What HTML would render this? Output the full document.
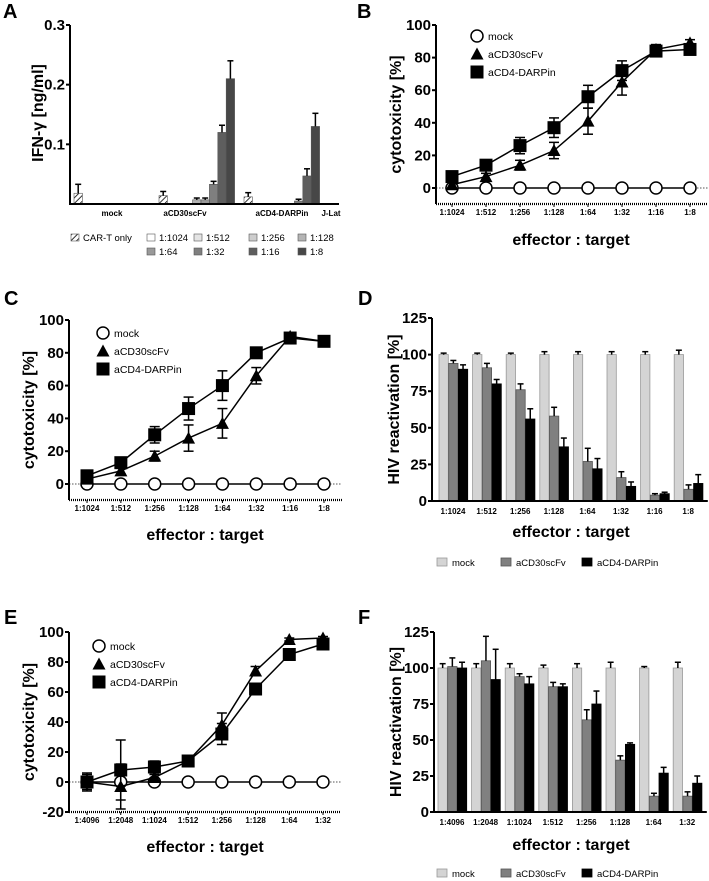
<!DOCTYPE html>
<html><head><meta charset="utf-8"><style>
body{margin:0;background:#fff;width:709px;height:881px;overflow:hidden}
svg{display:block;font-family:"Liberation Sans",Arial,sans-serif}
</style></head><body>
<svg id="fig" width="709" height="881" viewBox="0 0 709 881">
<defs><pattern id="hatch" width="4" height="4" patternUnits="userSpaceOnUse" patternTransform="rotate(45)"><rect width="4" height="4" fill="#fff"/><line x1="0" y1="0" x2="0" y2="4" stroke="#000" stroke-width="1.6"/></pattern></defs>
</svg>
<script>
// ---- Panel A data ----
const aGroups=["mock","aCD30scFv","aCD4-DARPin","J-Lat"];
const aSeries=["CAR-T only","1:1024","1:512","1:256","1:128","1:64","1:32","1:16","1:8"];
const aMock=[0.018,0,0,0,0,0,0,0,0];
const aMockErr=[0.015,0,0,0,0,0,0,0,0];
const aCD30=[0.014,0,0,0,0.007,0.007,0.033,0.12,0.21];
const aCD30Err=[0.007,0,0,0,0.003,0.003,0.005,0.012,0.03];
const aCD4=[0.012,0,0,0,0,0,0.005,0.047,0.13];
const aCD4Err=[0.007,0,0,0,0,0,0.003,0.012,0.022];
const aJLat=[0,0,0,0,0,0,0,0,0];
const aTicks=[0.1,0.2,0.3];
// ---- Panel B data ----
const ratios8=["1:1024","1:512","1:256","1:128","1:64","1:32","1:16","1:8"];
const bMock=[0,0,0,0,0,0,0,0];
const bCD30=[2,7,14,23,41,65,85,89];
const bCD30Err=[2,2,3,5,8,8,3,2];
const bCD4=[7,14,26,37,56,72,84,85];
const bCD4Err=[3,2,5,6,7,6,3,2];
// ---- Panel C data ----
const cMock=[0,0,0,0,0,0,0,0];
const cCD30=[3,8,17,28,37,66,90,87];
const cCD30Err=[2,2,3,8,9,5,2,2];
const cCD4=[5,13,30,46,60,80,89,87];
const cCD4Err=[2,3,5,7,9,3,2,2];
// ---- Panel D data ----
const dMock=[100,100,100,100,100,100,100,100];
const dMockErr=[1,1,1,2,2,2,2,3];
const dCD30=[94,91,76,58,27,16,4,8];
const dCD30Err=[2,3,4,6,9,4,1,3];
const dCD4=[90,80,56,37,22,10,5,12];
const dCD4Err=[3,3,7,6,7,3,1,6];
// ---- Panel E data ----
const ratiosE=["1:4096","1:2048","1:1024","1:512","1:256","1:128","1:64","1:32"];
const eMock=[0,0,0,0,0,0,0,0];
const eCD30=[0,-3,3,14,38,74,95,96];
const eCD30Err=[5,15,2,2,8,3,1,1];
const eCD4=[0,8,10,14,32,62,85,92];
const eCD4Err=[6,20,4,2,7,3,2,2];
// ---- Panel F data ----
const fMock=[100,100,100,100,100,100,100,100];
const fMockErr=[3,3,3,2,3,4,1,4];
const fCD30=[101,105,94,87,64,36,11,11];
const fCD30Err=[6,17,2,3,7,3,2,3];
const fCD4=[100,92,89,87,75,47,27,20];
const fCD4Err=[4,21,5,2,9,1,4,5];
const lineTicks=[0,20,40,60,80,100];
const lineTicksE=[-20,0,20,40,60,80,100];
const barTicks=[0,25,50,75,100,125];

const svg=document.getElementById('fig');
const NS='http://www.w3.org/2000/svg';
function mk(tag,attrs,parent){const e=document.createElementNS(NS,tag);for(const k in attrs)e.setAttribute(k,attrs[k]);(parent||svg).appendChild(e);return e;}
function txt(s,x,y,size,anchor,weight,parent,rot){const e=mk('text',{x:x,y:y,'font-size':size,'text-anchor':anchor||'middle','font-weight':weight||'bold',fill:'#000'},parent);if(rot)e.setAttribute('transform','rotate(-90 '+x+' '+y+')');e.textContent=s;return e;}

function panelLabel(s,x,y){const t=txt(s,x,y,20,'start','bold');}

function errBar(g,x,y1,y2,cap){mk('line',{x1:x,x2:x,y1:y1,y2:y2,stroke:'#000','stroke-width':1.5},g);mk('line',{x1:x-cap,x2:x+cap,y1:y2,y2:y2,stroke:'#000','stroke-width':1.5},g);}

// ---------- Panel A ----------
(function(){
  const g=mk('g',{});
  
  
  const x0=70,x1=339,yz=204,yTop=25,max=0.3;
  const Y=v=>yz-(v/max)*(yz-yTop);
  const bw=8.4,gStart=[74,159,244,329];
  const fills=['url(#hatch)','#fff','#e4e4e4','#cdcdcd','#b4b4b4','#999','#7f7f7f','#5e5e5e','#474747'];
  const groups=[aMock,aCD30,aCD4,aJLat],errs=[aMockErr,aCD30Err,aCD4Err,aJLat];
  groups.forEach((arr,gi)=>{arr.forEach((v,i)=>{if(v<=0)return;const x=gStart[gi]+i*bw;
    const r=mk('rect',{x:x,y:Y(v),width:bw,height:yz-Y(v),fill:fills[i],stroke:'#555','stroke-width':0.6},g);
    
    
    if(errs[gi][i]>0)errBar(g,x+bw/2,Y(v),Y(v+errs[gi][i]),3);});});
  mk('line',{x1:x0,x2:x0,y1:yTop,y2:yz+1,stroke:'#000','stroke-width':2},g);
  mk('line',{x1:x0,x2:x1,y1:yz,y2:yz,stroke:'#000','stroke-width':2},g);
  aTicks.forEach(t=>{mk('line',{x1:x0-4,x2:x0,y1:Y(t),y2:Y(t),stroke:'#000','stroke-width':2},g);txt(String(t),x0-5,Y(t)+5,15,'end','bold',g);});
  const gx=[112,185,282,331];
  aGroups.forEach((s,i)=>txt(s,gx[i],216,8,'middle','bold',g));
  const yl=txt('IFN-γ [ng/ml]',43,113,16,'middle','bold',g,true);
  
  const lx=[71,147,194,249,298],ly=[241,255];
  aSeries.forEach((s,i)=>{let bx,by;if(i==0){bx=lx[0];by=ly[0];}else if(i<5){bx=lx[i];by=ly[0];}else{bx=lx[i-4];by=ly[1];}
    const le=mk('g',{},g);
    mk('rect',{x:bx,y:by-7,width:8,height:7,fill:fills[i],stroke:'#555','stroke-width':0.6},le);
    txt(s,bx+12,by,9.5,'start','normal',le);});
})();
panelLabel('A',3,18);

// ---------- Line chart builder ----------
function lineChart(o){
  const g=mk('g',{});
  
  
  const Y=v=>o.yz-(v/100)*(o.yz-o.y100);
  const X=i=>o.xa+i*(o.xb-o.xa)/7;
  mk('line',{x1:o.ax,x2:o.xb+18,y1:o.yz,y2:o.yz,stroke:'#555','stroke-width':1,'stroke-dasharray':'1.5,1.5'},g);
  mk('line',{x1:o.ax,x2:o.ax,y1:o.y100,y2:o.yb,stroke:'#000','stroke-width':2},g);
  mk('line',{x1:o.ax,x2:o.xb+18,y1:o.yb,y2:o.yb,stroke:'#000','stroke-width':2.2,'stroke-dasharray':'1,1'},g);
  o.ticks.forEach(t=>{mk('line',{x1:o.ax-4,x2:o.ax,y1:Y(t),y2:Y(t),stroke:'#000','stroke-width':2},g);txt(String(t),o.ax-5,Y(t)+5,15,'end','bold',g);});
  o.cats.forEach((c,i)=>{mk('line',{x1:X(i),x2:X(i),y1:o.yb,y2:o.yb+3,stroke:'#000','stroke-width':1},g);txt(c,X(i),o.yb+11,8,'middle','bold',g);});
  const xt=txt('effector : target',o.xlx,o.xly,16,'middle','bold',g);
  
  const yt=txt('cytotoxicity [%]',o.ylx,(o.y100+o.yb)/2,16,'middle','bold',g,true);
  
  const ser=[[o.mock,null,'circle'],[o.cd30,o.cd30e,'tri'],[o.cd4,o.cd4e,'sq']];
  ser.forEach(([vals,errs,shape])=>{
    const pts=vals.map((v,i)=>X(i)+','+Y(v)).join(' ');
    const pl=mk('polyline',{points:pts,fill:'none',stroke:'#000','stroke-width':1.5},g);
    
    vals.forEach((v,i)=>{
      if(errs&&errs[i]>0){const x=X(i);mk('line',{x1:x,x2:x,y1:Y(v-errs[i]),y2:Y(v+errs[i]),stroke:'#000','stroke-width':1.5},g);
        mk('line',{x1:x-5,x2:x+5,y1:Y(v+errs[i]),y2:Y(v+errs[i]),stroke:'#000','stroke-width':1.5},g);
        mk('line',{x1:x-5,x2:x+5,y1:Y(v-errs[i]),y2:Y(v-errs[i]),stroke:'#000','stroke-width':1.5},g);}
      marker(g,shape,X(i),Y(v));});
  });
  const names=['mock','aCD30scFv','aCD4-DARPin'],shapes=['circle','tri','sq'];
  names.forEach((n,i)=>{const le=mk('g',{},g);
    const y=o.legY+i*18;marker(le,shapes[i],o.legX,y);txt(n,o.legX+11,y+4,10.5,'start','normal',le);});
}
function marker(g,shape,x,y){
  let m;
  if(shape=='circle')m=mk('circle',{cx:x,cy:y,r:6,fill:'#fff',stroke:'#000','stroke-width':1.5},g);
  else if(shape=='tri')m=mk('polygon',{points:(x-6.5)+','+(y+5.5)+' '+(x+6.5)+','+(y+5.5)+' '+x+','+(y-6.5),fill:'#000'},g);
  else m=mk('rect',{x:x-6.5,y:y-6.5,width:13,height:13,fill:'#000'},g);
  
}

lineChart({name:'panel-b-cytotoxicity-chart',ax:436,y100:25,yz:188,yb:204,xa:452,xb:690,cats:ratios8,ticks:lineTicks,
  mock:bMock,cd30:bCD30,cd30e:bCD30Err,cd4:bCD4,cd4e:bCD4Err,xlx:571,xly:245,ylx:401,legX:477,legY:36});
panelLabel('B',357,18);
lineChart({name:'panel-c-cytotoxicity-chart',ax:69,y100:320,yz:484,yb:500,xa:87,xb:324,cats:ratios8,ticks:lineTicks,
  mock:cMock,cd30:cCD30,cd30e:cCD30Err,cd4:cCD4,cd4e:cCD4Err,xlx:205,xly:540,ylx:34,legX:103,legY:333});
panelLabel('C',4,305);
lineChart({name:'panel-e-cytotoxicity-chart',ax:69,y100:632,yz:782,yb:812,xa:87,xb:323,cats:ratiosE,ticks:lineTicksE,
  mock:eMock,cd30:eCD30,cd30e:eCD30Err,cd4:eCD4,cd4e:eCD4Err,xlx:205,xly:852,ylx:34,legX:99,legY:646});
panelLabel('E',4,624);

// ---------- Bar chart builder ----------
function barChart(o){
  const g=mk('g',{});
  
  
  const Y=v=>o.yz-(v/125)*(o.yz-o.y125);
  const gw=33.6,bw=9.3;
  const fills=['#d4d4d4','#808080','#000'],strokes=['#999','#555','#000'];
  const ser=[[o.mock,o.mocke],[o.cd30,o.cd30e],[o.cd4,o.cd4e]];
  ser.forEach(([vals,errs],si)=>vals.forEach((v,i)=>{const x=o.gx+i*gw+si*(bw+0.4);
    const r=mk('rect',{x:x,y:Y(v),width:bw,height:o.yz-Y(v),fill:fills[si],stroke:strokes[si],'stroke-width':0.8},g);
    
    errBar(g,x+bw/2,Y(v),Y(v+errs[i]),3);}));
  mk('line',{x1:o.ax,x2:o.ax,y1:o.y125,y2:o.yz+1,stroke:'#000','stroke-width':2},g);
  mk('line',{x1:o.ax,x2:o.gx+8*gw,y1:o.yz,y2:o.yz,stroke:'#000','stroke-width':2},g);
  o.ticks.forEach(t=>{mk('line',{x1:o.ax-4,x2:o.ax,y1:Y(t),y2:Y(t),stroke:'#000','stroke-width':2},g);txt(String(t),o.ax-5,Y(t)+5,15,'end','bold',g);});
  o.cats.forEach((c,i)=>txt(c,o.gx+i*gw+14,o.yz+13,8,'middle','bold',g));
  const xt=txt('effector : target',571,o.xly,16,'middle','bold',g);
  
  const yt=txt('HIV reactivation [%]',o.ax-33,(o.y125+o.yz)/2,16,'middle','bold',g,true);
  
  const names=['mock','aCD30scFv','aCD4-DARPin'],lx=[437,501,582];
  names.forEach((n,i)=>{const le=mk('g',{},g);
    mk('rect',{x:lx[i],y:o.legY-7,width:10,height:8,fill:fills[i],stroke:strokes[i],'stroke-width':0.8},le);
    txt(n,lx[i]+15,o.legY+1,9.5,'start','normal',le);});
}
barChart({name:'panel-d-hiv-reactivation-chart',ax:432,y125:318,yz:501,gx:439,cats:ratios8,ticks:barTicks,
  mock:dMock,mocke:dMockErr,cd30:dCD30,cd30e:dCD30Err,cd4:dCD4,cd4e:dCD4Err,xly:537,legY:565});
panelLabel('D',358,305);
barChart({name:'panel-f-hiv-reactivation-chart',ax:434,y125:632,yz:812,gx:438,cats:ratiosE,ticks:barTicks,
  mock:fMock,mocke:fMockErr,cd30:fCD30,cd30e:fCD30Err,cd4:fCD4,cd4e:fCD4Err,xly:850,legY:876});
panelLabel('F',358,624);
</script>
</body></html>
